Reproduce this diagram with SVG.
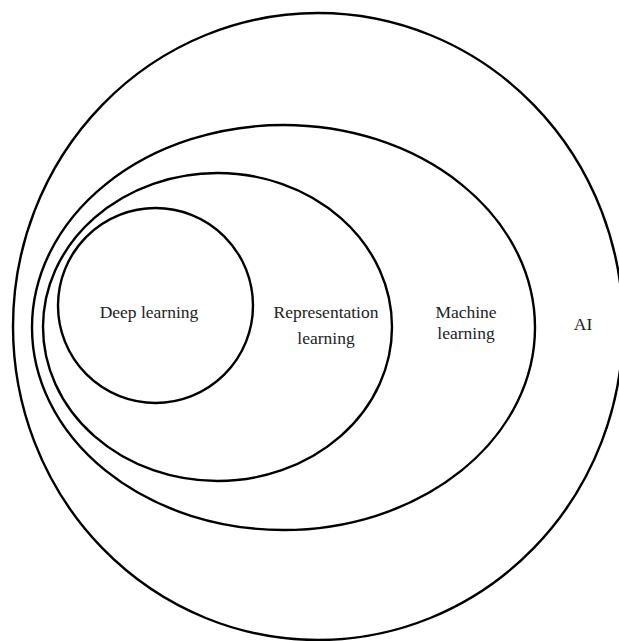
<svg xmlns="http://www.w3.org/2000/svg" width="619" height="641" viewBox="0 0 619 641">
<style>
.c{fill:none;stroke:#000;stroke-width:2.4}
text{font-family:"Liberation Serif","DejaVu Serif",serif;font-size:17.5px;fill:#222;text-anchor:middle}
</style>
<rect width="619" height="641" fill="#fff"/>
<g id="ai"><ellipse class="c" cx="318" cy="326.5" rx="305" ry="313.5"/><text x="583" y="330">AI</text></g>
<g id="ml"><ellipse class="c" cx="283.5" cy="327.5" rx="251.5" ry="202.5"/><text x="466" y="318">Machine</text><text x="466" y="339">learning</text></g>
<g id="rl"><ellipse class="c" cx="217.5" cy="327" rx="174.5" ry="154"/><text x="326" y="318">Representation</text><text x="326" y="344">learning</text></g>
<g id="dl"><ellipse class="c" cx="155.5" cy="305.5" rx="97.5" ry="97.5"/><text x="149" y="318">Deep learning</text></g>
<g id="connectors"/>
</svg>
